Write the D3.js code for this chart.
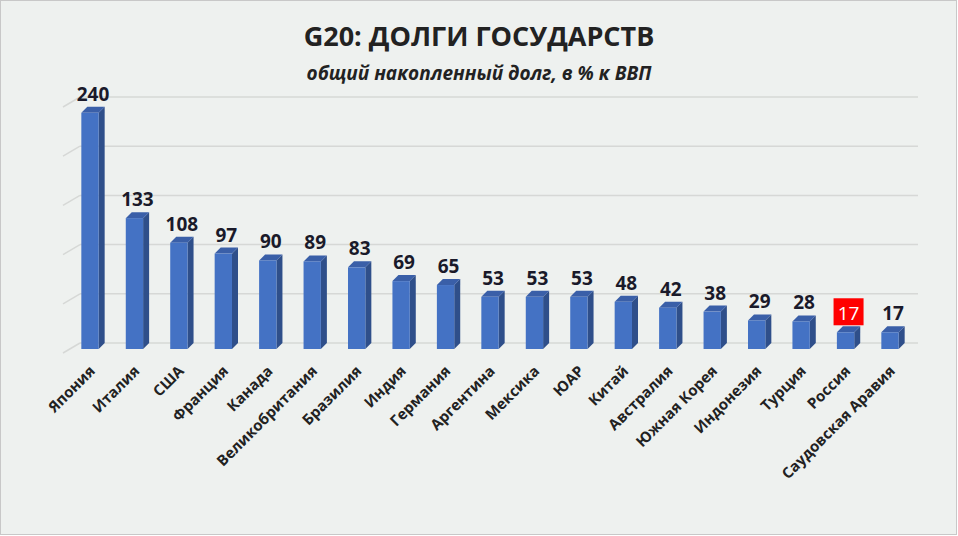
<!DOCTYPE html><html><head><meta charset="utf-8"><script src="https://cdn.jsdelivr.net/npm/d3@7"></script>
<style>body{margin:0;background:#fff}svg{font-family:"Open Sans",sans-serif}</style></head><body><svg id="c" width="958" height="536"></svg>
<script>
const countries=["Япония","Италия","США","Франция","Канада","Великобритания","Бразилия","Индия","Германия","Аргентина","Мексика","ЮАР","Китай","Австралия","Южная Корея","Индонезия","Турция","Россия","Саудовская Аравия"];
const debt=[240,133,108,97,90,89,83,69,65,53,53,53,48,42,38,29,28,17,17];
const ticks=[0,50,100,150,200,250];
const svg=d3.select("#c");
svg.append("rect").attr("x",0.5).attr("y",0.5).attr("width",956).attr("height",534).attr("fill","#eef1ef").attr("stroke","#c8c8c8");
const dx=6,dy=6;
const y=d3.scaleLinear().domain([0,250]).range([349,103]);
const x=d3.scaleBand().domain(countries).range([68,912]).paddingInner(0.61).paddingOuter(0.3);
const g=svg.append("g");
ticks.forEach(t=>{
 g.append("line").attr("x1",80).attr("x2",918).attr("y1",y(t)-dy).attr("y2",y(t)-dy).attr("stroke","#d6d8d6").attr("stroke-width",1.5);
 g.append("line").attr("x1",63).attr("x2",80).attr("y1",y(t)+4).attr("y2",y(t)-dy).attr("stroke","#d6d8d6").attr("stroke-width",1.5);
});
countries.forEach((c,i)=>{
 const x0=x(c),w=x.bandwidth(),yt=y(debt[i]),yb=y(0);
 g.append("polygon").attr("points",`${x0+w},${yt} ${x0+w+dx},${yt-dy} ${x0+w+dx},${yb-dy} ${x0+w},${yb}`).attr("fill","#2f4f8a");
 g.append("polygon").attr("points",`${x0},${yt} ${x0+dx},${yt-dy} ${x0+w+dx},${yt-dy} ${x0+w},${yt}`).attr("fill","#3a5fa8");
 g.append("rect").attr("x",x0).attr("y",yt).attr("width",w).attr("height",yb-yt).attr("fill","#4472c4");
 const cx=x0+w/2+3,ly=yt-12;
 if(c==="Россия"){
  g.append("rect").attr("x",cx-15).attr("y",ly-22).attr("width",30).attr("height",27).attr("fill","#ff0000");
  g.append("text").attr("x",cx).attr("y",ly).attr("text-anchor","middle").attr("font-size",19).attr("fill","#fff").text(debt[i]);
 } else {
  g.append("text").attr("x",cx).attr("y",ly).attr("text-anchor","middle").attr("font-size",19).attr("font-weight","bold").attr("fill","#1a1a2a").text(debt[i]);
 }
 g.append("text").attr("transform",`translate(${x0+w/2+6},${372}) rotate(-45)`).attr("text-anchor","end").attr("font-size",15).attr("font-weight","bold").attr("fill","#222").text(c);
});
svg.append("text").attr("x",479).attr("y",46).attr("text-anchor","middle").attr("font-size",27).attr("font-weight","bold").attr("fill","#222").text("G20: ДОЛГИ ГОСУДАРСТВ");
svg.append("text").attr("x",479).attr("y",80).attr("text-anchor","middle").attr("font-size",19).attr("font-weight","bold").attr("font-style","italic").attr("fill","#222").text("общий накопленный долг, в % к ВВП");
</script></body></html>
